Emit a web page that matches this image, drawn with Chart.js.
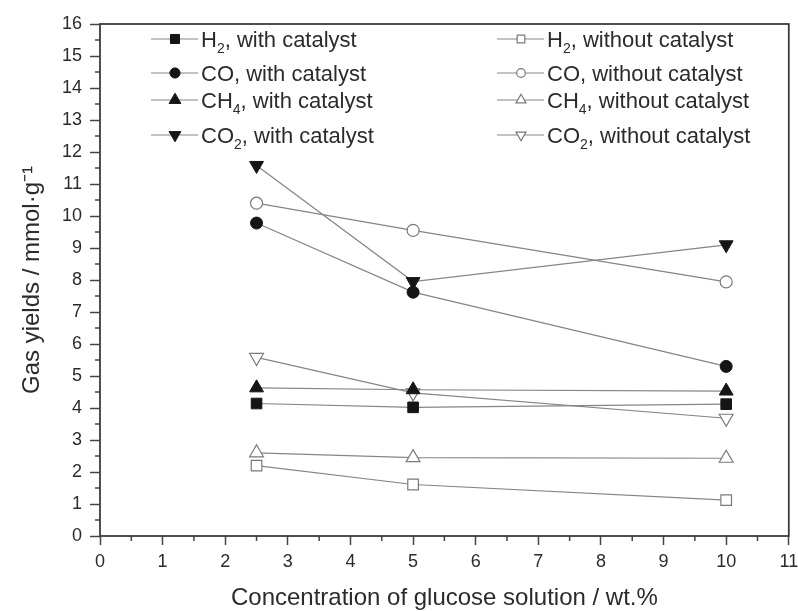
<!DOCTYPE html>
<html>
<head>
<meta charset="utf-8">
<script src="https://cdn.jsdelivr.net/npm/chart.js@4.4.1/dist/chart.umd.min.js"></script>
<style>
  html, body { margin: 0; padding: 0; background: #fff; }
</style>
</head>
<body>
<canvas id="gasChart" width="798" height="611"></canvas>
<script>
// ---- data ----
const concentrations = [2.5, 5, 10];

const h2With      = [4.14, 4.02, 4.12];
const coWith      = [9.78, 7.62, 5.30];
const ch4With     = [4.63, 4.57, 4.53];
const co2With     = [11.58, 7.95, 9.10];

const h2Without   = [2.20, 1.61, 1.12];
const coWithout   = [10.40, 9.55, 7.94];
const ch4Without  = [2.60, 2.45, 2.43];
const co2Without  = [5.58, 4.47, 3.68];

const xTicks = [0, 1, 2, 3, 4, 5, 6, 7, 8, 9, 10, 11];
const yTicks = [0, 1, 2, 3, 4, 5, 6, 7, 8, 9, 10, 11, 12, 13, 14, 15, 16];

// legend labels, split into [text, isSubscript]
const legendLabels = [
  [["H", 0], ["2", 1], [", with catalyst", 0]],
  [["CO, with catalyst", 0]],
  [["CH", 0], ["4", 1], [", with catalyst", 0]],
  [["CO", 0], ["2", 1], [", with catalyst", 0]],
  [["H", 0], ["2", 1], [", without catalyst", 0]],
  [["CO, without catalyst", 0]],
  [["CH", 0], ["4", 1], [", without catalyst", 0]],
  [["CO", 0], ["2", 1], [", without catalyst", 0]]
];

// ---- styles ----
const FONT = "'Liberation Sans', Arial, sans-serif";
const lineGrey = "#858585";
const inkDark = "#151515";
const textCol = "#2b2b2b";
const markerRadius = { rect: 7.5, circle: 6, triangle: 8 };

function toPoints(ys) {
  return concentrations.map((x, i) => ({ x: x, y: ys[i] }));
}

function series(ys, style, filled, rotation) {
  return {
    data: toPoints(ys),
    showLine: true,
    borderColor: lineGrey,
    borderWidth: 1.2,
    pointStyle: style,
    rotation: rotation || 0,
    pointRadius: markerRadius[style],
    pointHoverRadius: markerRadius[style],
    pointBackgroundColor: filled ? inkDark : "#ffffff",
    pointBorderColor: filled ? inkDark : "#7a7a7a",
    pointBorderWidth: filled ? 1 : 1.2
  };
}

// ---- plugin: frame, minor ticks, two-column legend ----
const extrasPlugin = {
  id: "extras",
  afterDraw(chart) {
    const ctx = chart.ctx;
    const a = chart.chartArea;
    const xs = chart.scales.x, ys = chart.scales.y;

    ctx.save();
    // minor ticks
    ctx.strokeStyle = "#444";
    ctx.lineWidth = 1.5;
    ctx.beginPath();
    for (let v = 0.5; v < 16; v += 1) {
      const py = ys.getPixelForValue(v);
      ctx.moveTo(a.left - 5, py);
      ctx.lineTo(a.left, py);
    }
    for (let v = 0.5; v < 11; v += 1) {
      const px = xs.getPixelForValue(v);
      ctx.moveTo(px, a.bottom);
      ctx.lineTo(px, a.bottom + 5);
    }
    ctx.stroke();

    // frame
    ctx.lineWidth = 1.8;
    ctx.strokeStyle = "#3c3c3c";
    ctx.strokeRect(a.left, a.top, a.right - a.left, a.bottom - a.top);

    // legend
    const colX = [151, 497];
    const rowY = [39, 73, 100, 135];
    chart.data.datasets.forEach((ds, i) => {
      const lx = colX[Math.floor(i / 4)];
      const ly = rowY[i % 4];
      ctx.strokeStyle = lineGrey;
      ctx.lineWidth = 1.2;
      ctx.beginPath();
      ctx.moveTo(lx, ly);
      ctx.lineTo(lx + 47, ly);
      ctx.stroke();

      const filled = ds.pointBackgroundColor !== "#ffffff";
      ctx.fillStyle = ds.pointBackgroundColor;
      ctx.strokeStyle = ds.pointBorderColor;
      ctx.lineWidth = ds.pointBorderWidth;
      Chart.helpers.drawPoint(ctx, {
        pointStyle: ds.pointStyle,
        rotation: ds.rotation,
        radius: (filled ? 0.85 : 0.72) * markerRadius[ds.pointStyle],
        borderWidth: ds.pointBorderWidth
      }, lx + 24, ly);

      let tx = lx + 50;
      const base = ly + 8;
      ctx.fillStyle = textCol;
      ctx.textBaseline = "alphabetic";
      ctx.textAlign = "left";
      legendLabels[i].forEach(([txt, sub]) => {
        ctx.font = (sub ? "14px " : "22px ") + FONT;
        ctx.fillText(txt, tx, sub ? base + 6 : base);
        tx += ctx.measureText(txt).width;
      });
    });
    ctx.restore();
  }
};

const ctx = document.getElementById("gasChart").getContext("2d");

new Chart(ctx, {
  type: "scatter",
  data: {
    datasets: [
      series(h2With, "rect", true),
      series(coWith, "circle", true),
      series(ch4With, "triangle", true),
      series(co2With, "triangle", true, 180),
      series(h2Without, "rect", false),
      series(coWithout, "circle", false),
      series(ch4Without, "triangle", false),
      series(co2Without, "triangle", false, 180)
    ]
  },
  options: {
    responsive: false,
    animation: false,
    layout: { padding: { top: 24, right: 8, left: 0, bottom: 0 } },
    plugins: {
      legend: { display: false },
      tooltip: { enabled: false }
    },
    scales: {
      x: {
        type: "linear",
        min: 0,
        max: 11,
        afterBuildTicks: (scale) => { scale.ticks = xTicks.map(v => ({ value: v })); },
        afterFit: (scale) => { scale.height = 75; scale.paddingRight = 0; },
        grid: { drawOnChartArea: false, tickLength: 9, tickWidth: 1.5, tickColor: "#444" },
        border: { display: false },
        ticks: {
          color: textCol,
          padding: 6,
          font: { family: FONT, size: 18 }
        },
        title: {
          display: true,
          text: "Concentration of glucose solution / wt.%",
          color: textCol,
          font: { family: FONT, size: 24, lineHeight: 1 },
          padding: { bottom: 1 }
        }
      },
      y: {
        type: "linear",
        min: 0,
        max: 16,
        afterBuildTicks: (scale) => { scale.ticks = yTicks.map(v => ({ value: v })); },
        afterFit: (scale) => { scale.width = 100; },
        grid: { drawOnChartArea: false, tickLength: 10, tickWidth: 1.5, tickColor: "#444" },
        border: { display: false },
        ticks: {
          color: textCol,
          padding: 8,
          font: { family: FONT, size: 18 }
        },
        title: {
          display: true,
          text: "Gas yields / mmol\u00b7g\u207b\u00b9",
          color: textCol,
          font: { family: FONT, size: 24, lineHeight: 1 },
          padding: { top: 20 }
        }
      }
    }
  },
  plugins: [extrasPlugin]
});
</script>
</body>
</html>
